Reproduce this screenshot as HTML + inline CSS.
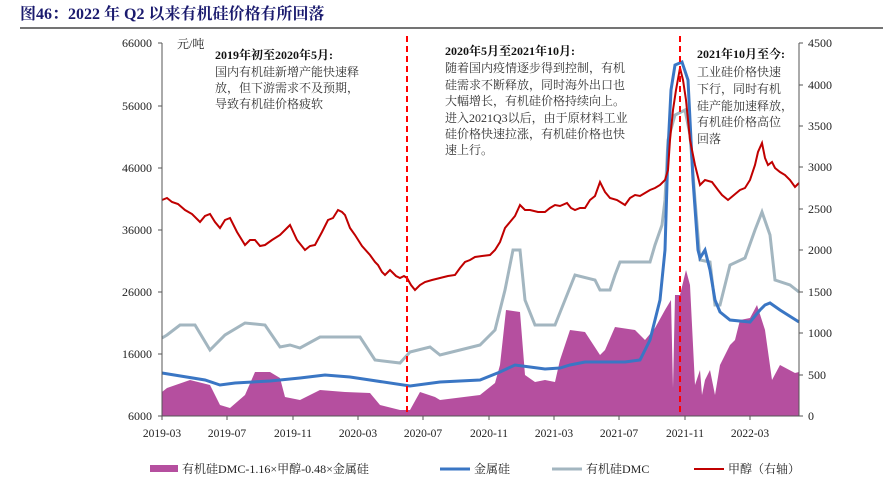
<!DOCTYPE html>
<html><head><meta charset="utf-8"><style>
body{margin:0;background:#fff;width:883px;height:483px;overflow:hidden}
svg text{font-family:"Liberation Serif","Noto Serif CJK SC",serif;}
</style></head><body>
<svg width="883" height="483" viewBox="0 0 883 483" xmlns="http://www.w3.org/2000/svg">
<text x="20" y="19" font-size="16" font-weight="bold" fill="#1a1a6e">图46：2022 年 Q2 以来有机硅价格有所回落</text>
<line x1="20" y1="28" x2="883" y2="28" stroke="#222" stroke-width="1.2"/>
<!-- area -->
<polygon fill="#b54f9f" points="162,416 162,392 167,388 190,380 210,385 220,405 230,408 245,395 255,372 270,372 280,378 285,397 300,400 320,390 345,392 370,393 380,405 400,410 410,410 420,392 435,397 440,400 480,395 495,383 500,365 506,310 520,312 525,375 535,382 545,380 555,382 560,360 570,330 585,332 600,355 605,350 615,327 635,330 645,340 655,328 665,310 671,300 673,388 675,295 680,295 686,270 690,285 695,385 700,370 702,395 705,380 710,370 715,395 720,365 730,345 735,340 740,320 750,318 757,305 765,330 772,380 780,365 795,373 799,372 799,416"/>
<!-- gray DMC -->
<polyline fill="none" stroke="#a3b6c0" stroke-width="3" points="162,338 167,335 180,325 195,325 210,350 225,335 245,323 265,325 280,347 290,345 300,348 320,337 360,337 375,360 400,363 410,352 430,347 440,355 460,350 480,345 495,330 505,290 513,250 520,250 525,300 535,325 555,325 565,300 575,275 595,280 600,290 610,290 615,275 620,262 650,262 655,245 662,225 665,200 668,140 675,115 685,110 690,135 695,200 700,260 710,262 715,305 720,305 730,265 745,258 755,230 762,212 770,235 775,280 790,285 799,292"/>
<!-- blue -->
<polyline fill="none" stroke="#3a76c4" stroke-width="3" points="162,373 205,380 220,385 235,383 270,381 300,378 325,375 350,377 370,380 410,386 440,382 480,380 500,372 515,365 530,367 545,369 560,368 570,365 585,362 625,362 640,360 650,340 660,300 665,250 668,150 671,90 675,65 682,62 688,80 693,180 698,250 700,258 705,250 710,270 715,300 720,312 730,320 750,322 760,310 765,305 770,303 780,310 799,322"/>
<!-- red -->
<polyline fill="none" stroke="#c00000" stroke-width="2" points="162,200 167,198 172,202 178,204 185,210 192,214 200,222 205,216 210,214 215,222 220,228 225,220 230,218 237,232 245,245 250,240 255,240 260,246 265,245 272,240 280,235 285,230 290,225 297,240 305,250 310,246 315,245 322,232 328,220 333,218 338,210 342,212 345,215 350,228 355,235 362,246 370,255 375,262 378,265 382,272 385,275 390,270 392,272 396,276 400,278 404,276 407,278 411,285 415,290 420,285 425,282 432,280 440,278 448,276 455,275 460,268 465,262 470,260 475,257 482,256 490,255 495,250 500,242 505,228 510,222 515,216 520,205 525,210 530,210 538,212 545,212 550,208 555,205 560,206 567,203 571,208 575,210 580,208 585,208 590,200 595,196 600,182 605,192 610,198 617,200 625,205 630,198 635,195 640,196 645,193 650,190 655,188 660,185 665,180 668,170 670,140 673,110 676,90 680,68 683,80 686,100 690,140 695,165 700,185 705,180 712,182 718,190 722,195 728,200 734,195 740,190 745,188 750,180 755,165 758,152 762,143 765,158 768,165 772,162 775,168 780,172 785,175 790,180 795,187 799,183"/>
<!-- dashed -->
<line x1="407" y1="36" x2="407" y2="416" stroke="#ff0000" stroke-width="2" stroke-dasharray="6,4"/>
<line x1="680" y1="36" x2="680" y2="416" stroke="#ff0000" stroke-width="2" stroke-dasharray="6,4"/>
<!-- axes -->
<g stroke="#555" stroke-width="1" fill="none">
<line x1="162" y1="43" x2="162" y2="416"/><line x1="162" y1="416" x2="799" y2="416"/><line x1="799" y1="43" x2="799" y2="416"/>
<path d="M158 43h4M158 106h4M158 168h4M158 230h4M158 292h4M158 354h4M158 416h4"/>
<path d="M799 43h4M799 85h4M799 126h4M799 167h4M799 209h4M799 250h4M799 292h4M799 333h4M799 375h4M799 416h4"/>
<path d="M162 416v4M227 416v4M293 416v4M358 416v4M423 416v4M489 416v4M554 416v4M619 416v4M685 416v4M750 416v4"/>
</g>
<g font-size="12" fill="#222" text-anchor="end">
<text x="152" y="47">66000</text><text x="152" y="110">56000</text><text x="152" y="172">46000</text><text x="152" y="234">36000</text><text x="152" y="296">26000</text><text x="152" y="358">16000</text><text x="152" y="420">6000</text>
</g>
<g font-size="12" fill="#222">
<text x="808" y="47">4500</text><text x="808" y="89">4000</text><text x="808" y="130">3500</text><text x="808" y="171">3000</text><text x="808" y="213">2500</text><text x="808" y="254">2000</text><text x="808" y="296">1500</text><text x="808" y="337">1000</text><text x="808" y="379">500</text><text x="808" y="420">0</text>
</g>
<g font-size="11.5" fill="#222" text-anchor="middle">
<text x="162" y="437">2019-03</text><text x="227" y="437">2019-07</text><text x="293" y="437">2019-11</text><text x="358" y="437">2020-03</text><text x="423" y="437">2020-07</text><text x="489" y="437">2020-11</text><text x="554" y="437">2021-03</text><text x="619" y="437">2021-07</text><text x="685" y="437">2021-11</text><text x="750" y="437">2022-03</text>
</g>
<text x="177" y="48" font-size="12" fill="#222">元/吨</text>
<g font-size="12" fill="#333">
<text x="215" y="59" font-weight="bold" fill="#111">2019年初至2020年5月:</text>
<text x="215" y="76">国内有机硅新增产能快速释</text>
<text x="215" y="92">放，但下游需求不及预期，</text>
<text x="215" y="108">导致有机硅价格疲软</text>
<text x="445" y="55" font-weight="bold" fill="#111">2020年5月至2021年10月:</text>
<text x="445" y="72">随着国内疫情逐步得到控制，有机</text>
<text x="445" y="89">硅需求不断释放，同时海外出口也</text>
<text x="445" y="105">大幅增长，有机硅价格持续向上。</text>
<text x="445" y="122">进入2021Q3以后，由于原材料工业</text>
<text x="445" y="138">硅价格快速拉涨，有机硅价格也快</text>
<text x="445" y="154">速上行。</text>
<text x="697" y="58" font-weight="bold" fill="#111">2021年10月至今:</text>
<text x="697" y="76">工业硅价格快速</text>
<text x="697" y="93">下行，同时有机</text>
<text x="697" y="110">硅产能加速释放，</text>
<text x="697" y="126">有机硅价格高位</text>
<text x="697" y="143">回落</text>
</g>
<!-- legend -->
<rect x="150" y="465" width="28" height="7" fill="#b54f9f"/>
<text x="182" y="473" font-size="12" fill="#222">有机硅DMC-1.16×甲醇-0.48×金属硅</text>
<line x1="440" y1="469" x2="470" y2="469" stroke="#3a76c4" stroke-width="3"/>
<text x="474" y="473" font-size="12" fill="#222">金属硅</text>
<line x1="552" y1="469" x2="582" y2="469" stroke="#a3b6c0" stroke-width="3"/>
<text x="586" y="473" font-size="12" fill="#222">有机硅DMC</text>
<line x1="694" y1="469" x2="724" y2="469" stroke="#c00000" stroke-width="2"/>
<text x="728" y="473" font-size="12" fill="#222">甲醇（右轴）</text>
</svg>
</body></html>
